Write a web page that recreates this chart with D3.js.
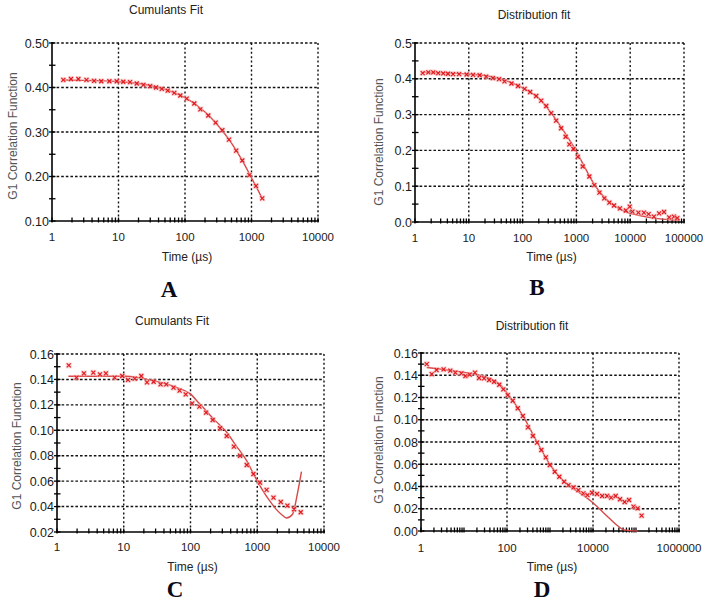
<!DOCTYPE html>
<html><head><meta charset="utf-8">
<script src="https://cdn.jsdelivr.net/npm/d3@7"></script>
<style>body{margin:0;background:#fff}svg{display:block}</style>
</head><body>
<svg id="chart" width="708" height="604"></svg>
<script>
// ---------- DATA ----------
// Panel A – Cumulants Fit
const aTime = [1.48,1.93,2.49,3.3,4.3,5.5,7.3,9.4,11.8,14.9,18.8,23.7,29.9,36.6,44.7,55,69,85,106,138,170,224,289,364,459,588,727,930,1170,1450];
const aG1   = [0.417,0.419,0.419,0.417,0.415,0.414,0.414,0.414,0.413,0.412,0.409,0.406,0.403,0.400,0.397,0.393,0.388,0.382,0.375,0.364,0.351,0.337,0.321,0.304,0.283,0.258,0.236,0.203,0.179,0.151];
const aFitTime = [1.48,3,6,10,20,40,70,100,150,200,300,400,500,700,1000,1450];
const aFitG1   = [0.417,0.416,0.415,0.413,0.409,0.400,0.388,0.377,0.360,0.345,0.318,0.295,0.275,0.240,0.197,0.151];

// Panel B – Distribution fit
const bTime = [1.39,1.77,2.19,2.7,3.35,4.1,5.1,6.6,9.1,12,15.9,21,28,36.5,46,62,82,109,138,179,222,275,340,420,520,630,740,880,1060,1310,1740,2150,2680,3300,4100,5000,6450,8300,9800,11000,14200,18000,22000,27600,34500,42500,53000,65000,75000];
const bG1   = [0.416,0.418,0.418,0.416,0.415,0.414,0.413,0.413,0.412,0.411,0.410,0.406,0.402,0.399,0.393,0.387,0.380,0.372,0.363,0.352,0.339,0.324,0.304,0.283,0.262,0.238,0.217,0.204,0.182,0.155,0.127,0.103,0.082,0.066,0.054,0.046,0.038,0.032,0.043,0.029,0.026,0.026,0.022,0.015,0.024,0.028,0.013,0.015,0.011];
const bFitTime = [1.39,10,30,60,100,200,400,700,1000,1500,2000,3000,5000,8000,15000,30000,80000];
const bFitG1   = [0.418,0.413,0.404,0.390,0.375,0.345,0.290,0.235,0.197,0.147,0.113,0.076,0.046,0.029,0.018,0.010,0.004];

// Panel C – Cumulants Fit
const cTime = [1.5,1.96,2.53,3.5,4.4,5.4,7.3,9.5,11.6,14.6,18.3,22.3,28,35.6,43.3,55.6,68.6,84.8,106,136,171,215,277,349,447,553,696,877,1100,1380,1750,2250,2830,3560,4480];
const cG1   = [0.151,0.1414,0.1448,0.1453,0.144,0.1448,0.1414,0.1427,0.1396,0.1406,0.1427,0.1377,0.1382,0.1361,0.1361,0.1335,0.1312,0.1283,0.1212,0.1186,0.1139,0.1081,0.1016,0.0955,0.0871,0.0800,0.0727,0.0656,0.0588,0.0531,0.0470,0.0436,0.0407,0.0379,0.0355];
const cFitTime = [1.48,11,24.4,61,97,136,241,341,480,678,956,1200,1510,1910,2400,2750,3380,3990,4600];
const cFitG1   = [0.1425,0.1425,0.1396,0.1338,0.129,0.121,0.107,0.099,0.088,0.077,0.062,0.053,0.045,0.038,0.033,0.031,0.034,0.050,0.0675];

// Panel D – Distribution fit
const dTime = [1.36,1.78,2.3,3.35,4.8,6.3,8.7,10.8,13.5,18,22.4,29.3,38.4,50,66,82,104,136,178,234,307,400,500,630,800,990,1290,1650,2130,2690,3530,4580,6000,7450,9500,12400,16300,21300,26500,33600,42500,54500,69000,87500,109000,135000];
const dG1   = [0.150,0.141,0.1447,0.1453,0.1441,0.1423,0.1417,0.1393,0.1405,0.1423,0.1375,0.1372,0.1357,0.1342,0.1315,0.1273,0.1222,0.1171,0.1103,0.1034,0.0932,0.0854,0.0794,0.0728,0.0662,0.0593,0.0533,0.0488,0.0443,0.0413,0.0392,0.0368,0.0338,0.0323,0.0344,0.0333,0.0315,0.0315,0.0300,0.0315,0.0285,0.0261,0.0279,0.0219,0.0204,0.0138];
const dFitTime = [1.36,4.4,17,46,72,104,163,256,400,630,990,1550,2450,3830,6000,9500,14900,23300,36700,52000,109000];
const dFitG1   = [0.147,0.1445,0.141,0.136,0.131,0.123,0.113,0.101,0.087,0.073,0.060,0.050,0.0425,0.037,0.032,0.026,0.019,0.012,0.005,0.001,0.0];

// Tick labels
const aXTicks = [1,10,100,1000,10000], aYTicks = [0.10,0.20,0.30,0.40,0.50];
const bXTicks = [1,10,100,1000,10000,100000], bYTicks = [0.0,0.1,0.2,0.3,0.4,0.5];
const cXTicks = [1,10,100,1000,10000], cYTicks = [0.02,0.04,0.06,0.08,0.10,0.12,0.14,0.16];
const dXTicks = [1,100,10000,1000000], dYTicks = [0.00,0.02,0.04,0.06,0.08,0.10,0.12,0.14,0.16];

const titles = ["Cumulants Fit","Distribution fit","Cumulants Fit","Distribution fit"];
const letters = ["A","B","C","D"];
const xTitle = "Time (µs)", yTitle = "G1 Correlation Function";

// ---------- LAYOUT ----------
const panels = [
  {t:aTime,g:aG1,ft:aFitTime,fg:aFitG1,xt:aXTicks,yt:aYTicks,xd:[1,10000],yd:[0.1,0.5],fmt:".2f",ystep:0.05,
   L:52,R:318,T:43,B:221,titleX:166,titleY:14,letterX:169,letterY:297,ylabX:13,ylabY:136,xlabY:241,xtY:261},
  {t:bTime,g:bG1,ft:bFitTime,fg:bFitG1,xt:bXTicks,yt:bYTicks,xd:[1,100000],yd:[0,0.5],fmt:".1f",ystep:0.05,
   L:415,R:684,T:43,B:222,titleX:534,titleY:19,letterX:537,letterY:295,ylabX:379,ylabY:142,xlabY:242,xtY:261},
  {t:cTime,g:cG1,ft:cFitTime,fg:cFitG1,xt:cXTicks,yt:cYTicks,xd:[1,10000],yd:[0.02,0.16],fmt:".2f",ystep:0.01,
   L:57,R:324,T:354,B:532,titleX:172,titleY:325,letterX:175,letterY:597,ylabX:17,ylabY:446,xlabY:551,xtY:571},
  {t:dTime,g:dG1,ft:dFitTime,fg:dFitG1,xt:dXTicks,yt:dYTicks,xd:[1,1000000],yd:[0,0.16],fmt:".2f",ystep:0.01,
   L:421,R:679,T:353,B:531,titleX:532,titleY:330,letterX:542,letterY:597,ylabX:379,ylabY:440,xlabY:552,xtY:571}
];

const svg = d3.select("#chart");
const FONT = "'Liberation Sans', Arial, sans-serif";

panels.forEach((p, i) => {
  const g = svg.append("g");
  const x = d3.scaleLog().domain(p.xd).range([p.L, p.R]);
  const y = d3.scaleLinear().domain(p.yd).range([p.B, p.T]);

  // grid
  g.selectAll(".vg").data(p.xt.slice(1)).join("line")
    .attr("x1", d => x(d)).attr("x2", d => x(d)).attr("y1", p.T).attr("y2", p.B)
    .attr("stroke", "#111").attr("stroke-width", 1.4).attr("stroke-dasharray", "2,2.4");
  g.selectAll(".hg").data(p.yt.slice(1)).join("line")
    .attr("x1", p.L).attr("x2", p.R).attr("y1", d => y(d)).attr("y2", d => y(d))
    .attr("stroke", "#111").attr("stroke-width", 1.4).attr("stroke-dasharray", "2.6,2");

  // minor x ticks
  const lo = Math.log10(p.xd[0]), hi = Math.log10(p.xd[1]);
  const minorX = [];
  for (let e = lo; e < hi; e++) for (let m = 1; m <= 9; m++) minorX.push(m * Math.pow(10, e));
  minorX.push(p.xd[1]);
  g.selectAll(".mx").data(minorX).join("line")
    .attr("x1", d => x(d)).attr("x2", d => x(d)).attr("y1", p.B - 3.5).attr("y2", p.B + 1.5)
    .attr("stroke", "#000").attr("stroke-width", 1.3);

  // y ticks (major + minor)
  const n = Math.round((p.yd[1] - p.yd[0]) / p.ystep);
  const yTicksAll = d3.range(n + 1).map(k => p.yd[0] + k * p.ystep);
  g.selectAll(".my").data(yTicksAll).join("line")
    .attr("x1", p.L - 3).attr("x2", p.L + 3.5).attr("y1", d => y(d)).attr("y2", d => y(d))
    .attr("stroke", "#000").attr("stroke-width", 1.3);

  // axes
  g.append("line").attr("x1", p.L).attr("x2", p.L).attr("y1", p.T - 1).attr("y2", p.B + 1)
    .attr("stroke", "#000").attr("stroke-width", 1.6);
  g.append("line").attr("x1", p.L - 1).attr("x2", p.R + 1).attr("y1", p.B).attr("y2", p.B)
    .attr("stroke", "#000").attr("stroke-width", 1.6);

  // tick labels
  const fmt = d3.format(p.fmt);
  g.selectAll(".yl").data(p.yt).join("text")
    .attr("x", p.L - 3).attr("y", d => y(d)).attr("dy", "0.36em")
    .attr("text-anchor", "end").attr("font-family", FONT).attr("font-size", 12.5)
    .attr("fill", "#1a1a1a").text(d => fmt(d));
  g.selectAll(".xl").data(p.xt).join("text")
    .attr("x", d => x(d)).attr("y", p.xlabY)
    .attr("text-anchor", "middle").attr("font-family", FONT).attr("font-size", 11.5)
    .attr("fill", "#1a1a1a").text(d => d3.format("d")(d));

  // titles
  g.append("text").attr("x", p.titleX).attr("y", p.titleY).attr("text-anchor", "middle")
    .attr("font-family", FONT).attr("font-size", 12).attr("fill", "#222").text(titles[i]);
  g.append("text").attr("x", (p.L + p.R) / 2 + 2).attr("y", p.xtY).attr("text-anchor", "middle")
    .attr("font-family", FONT).attr("font-size", 12).attr("fill", "#222").text(xTitle);
  g.append("text").attr("transform", `translate(${p.ylabX + 4},${p.ylabY}) rotate(-90)`)
    .attr("text-anchor", "middle").attr("font-family", FONT).attr("font-size", 12)
    .attr("fill", "#555").text(yTitle);
  g.append("text").attr("x", p.letterX).attr("y", p.letterY).attr("text-anchor", "middle")
    .attr("font-family", "'Liberation Serif','Times New Roman',serif").attr("font-weight", "bold")
    .attr("font-size", 23).attr("fill", "#0a0a1a").text(letters[i]);

  // fit line
  const fit = p.ft.map((t, k) => [t, p.fg[k]]);
  g.append("path").datum(fit)
    .attr("d", d3.line().x(d => x(d[0])).y(d => y(d[1])).curve(d3.curveMonotoneX))
    .attr("fill", "none").attr("stroke", "#d94848").attr("stroke-width", 1.4);

  // data markers
  const pts = p.t.map((t, k) => [t, p.g[k]]);
  const mk = g.selectAll(".pt").data(pts).join("g")
    .attr("transform", d => `translate(${x(d[0])},${y(d[1])})`);
  mk.append("rect").attr("x", -3).attr("y", -3).attr("width", 6).attr("height", 6)
    .attr("fill", "#f6b8b8").attr("opacity", 0.55);
  mk.append("path").attr("d", "M-2,-2L2,2M-2,2L2,-2")
    .attr("stroke", "#e0191e").attr("stroke-width", 1.2).attr("fill", "none");
});
</script>
</body></html>
